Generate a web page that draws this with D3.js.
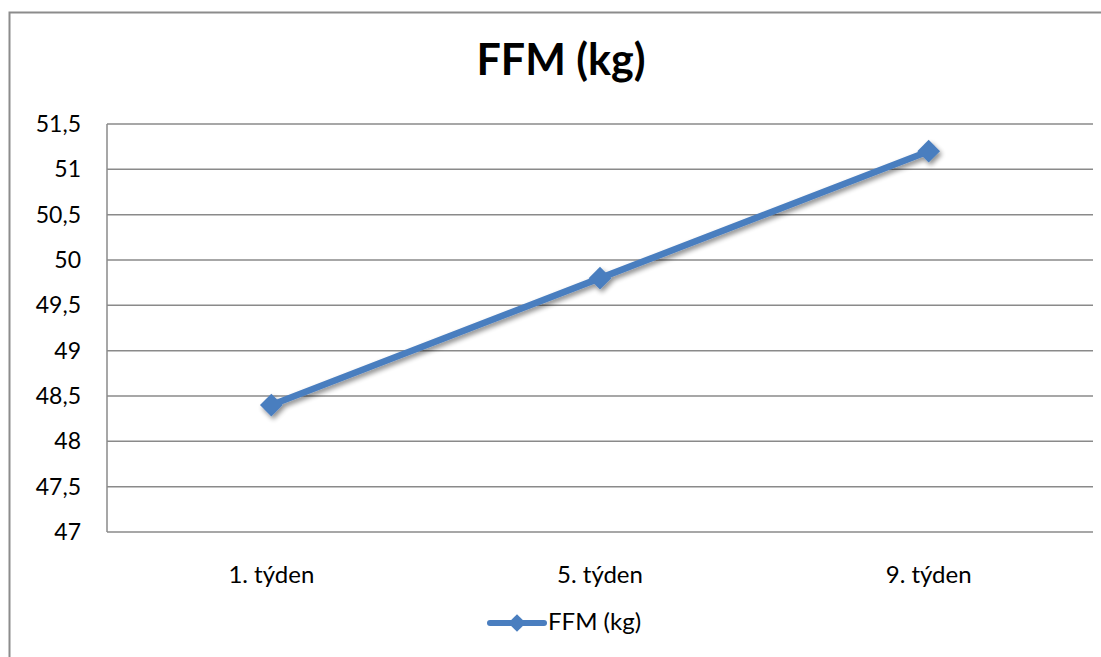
<!DOCTYPE html>
<html><head><meta charset="utf-8">
<script src="https://cdn.jsdelivr.net/npm/d3@7"></script>
<style>body{margin:0;background:#fff}svg{display:block}</style>
</head><body>
<svg id="c" width="1101" height="657"></svg>
<script>
const categories = ["1. týden", "5. týden", "9. týden"];
const values = [48.4, 49.8, 51.2];
const yTicks = [47, 47.5, 48, 48.5, 49, 49.5, 50, 50.5, 51, 51.5];
const seriesName = "FFM (kg)";
const title = "FFM (kg)";

const svg = d3.select("#c");
const font = "Lato, 'Open Sans', sans-serif";
const color = "#4A7EBF";

// chart border
svg.append("rect").attr("x", 9.5).attr("y", 12.5).attr("width", 1120).attr("height", 700)
  .attr("fill", "#fff").attr("stroke", "#8c8c8c").attr("stroke-width", 2);

const pL = 107, pR = 1093, pT = 124, pB = 532;
const x = d3.scaleBand().domain(categories).range([pL, pR]);
const y = d3.scaleLinear().domain([47, 51.5]).range([pB, pT]);

// gridlines
svg.append("g").selectAll("line").data(yTicks).join("line")
  .attr("x1", pL).attr("x2", pR)
  .attr("y1", d => y(d)).attr("y2", d => y(d))
  .attr("stroke", "#8a8a8a").attr("stroke-width", 1.5);
svg.append("line").attr("x1", pL).attr("x2", pL).attr("y1", pT).attr("y2", pB)
  .attr("stroke", "#8a8a8a").attr("stroke-width", 1.5);

// y axis
const yAxis = d3.axisLeft(y).tickValues(yTicks).tickSize(0).tickPadding(26)
  .tickFormat(d => String(d).replace(".", ","));
const gy = svg.append("g").attr("transform", `translate(${pL},0)`).call(yAxis);
gy.select(".domain").remove();
gy.selectAll("text").attr("font-family", font).attr("font-size", 23).attr("fill", "#000");

// x axis
const xAxis = d3.axisBottom(x).tickSize(0).tickPadding(34);
const gx = svg.append("g").attr("transform", `translate(0,${pB})`).call(xAxis);
gx.select(".domain").remove();
gx.selectAll("text").attr("font-family", font).attr("font-size", 24).attr("fill", "#000");

// title
svg.append("text").attr("x", 561).attr("y", 75).attr("text-anchor", "middle")
  .attr("font-family", font).attr("font-weight", "bold").attr("font-size", 43).text(title);

// shadow filter
const defs = svg.append("defs");
const f = defs.append("filter").attr("id", "sh").attr("x", "-50%").attr("y", "-50%").attr("width", "200%").attr("height", "200%");
f.append("feGaussianBlur").attr("in", "SourceAlpha").attr("stdDeviation", 2.5);
f.append("feOffset").attr("dx", 2).attr("dy", 3).attr("result", "ob");
f.append("feComponentTransfer").append("feFuncA").attr("type", "linear").attr("slope", 0.45);
const m = f.append("feMerge"); m.append("feMergeNode"); m.append("feMergeNode").attr("in", "SourceGraphic");

const cx = d => x(d) + x.bandwidth() / 2;
const pts = categories.map((c, i) => [cx(c), y(values[i])]);
const g = svg.append("g").attr("filter", "url(#sh)");
g.append("path").attr("d", d3.line()(pts)).attr("fill", "none")
  .attr("stroke", color).attr("stroke-width", 6.5).attr("stroke-linejoin", "round");
const diamond = d3.symbol().type(d3.symbolDiamond2).size(330);
g.selectAll("path.m").data(pts).join("path").attr("class", "m")
  .attr("transform", d => `translate(${d[0]},${d[1]})`)
  .attr("d", diamond).attr("fill", color);

// legend
const lg = svg.append("g");
lg.append("line").attr("x1", 490).attr("x2", 544).attr("y1", 623).attr("y2", 623)
  .attr("stroke", color).attr("stroke-width", 6).attr("stroke-linecap", "round");
lg.append("path").attr("transform", "translate(517,623)").attr("d", d3.symbol().type(d3.symbolDiamond2).size(200)).attr("fill", color);
lg.append("text").attr("x", 548).attr("y", 630).attr("font-family", font).attr("font-size", 24).text(seriesName);
</script>
</body></html>
